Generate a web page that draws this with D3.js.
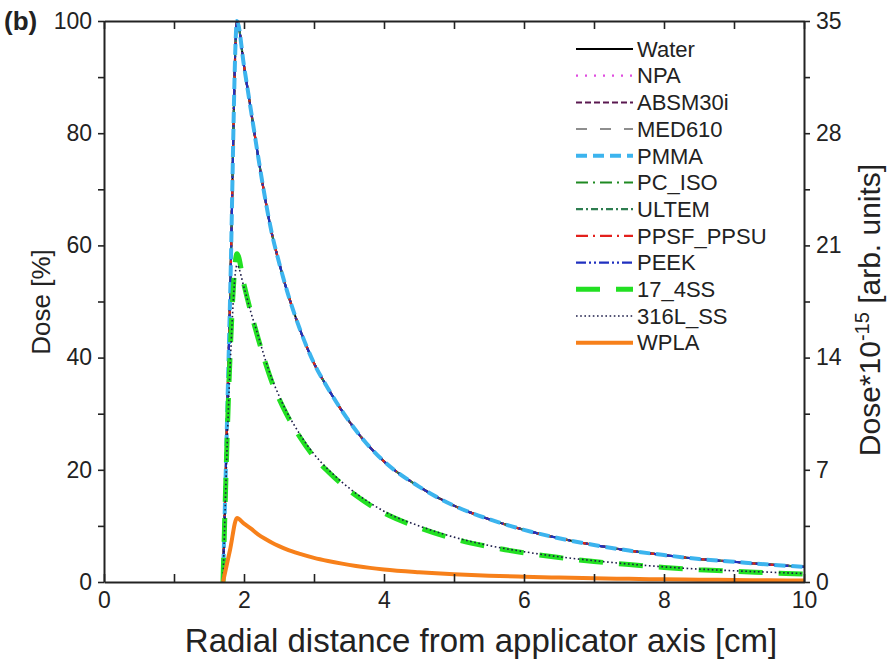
<!DOCTYPE html>
<html>
<head>
<meta charset="utf-8">
<script src="https://cdn.jsdelivr.net/npm/d3@7/dist/d3.min.js"></script>
<style>
  html, body { margin: 0; padding: 0; background: #fff; }
  svg text { font-family: "Liberation Sans", Arial, sans-serif; fill: #222; }
</style>
</head>
<body>
<svg id="chart" width="890" height="664"></svg>
<script>
// ---- data ----
const radius = [1.7, 1.8, 1.9, 2.0, 2.1, 2.2, 2.3, 2.4, 2.5, 2.6, 2.8, 3.0, 3.2, 3.4, 3.6, 3.8, 4.0, 4.5, 5.0, 5.5, 6.0, 6.5, 7.0, 7.5, 8.0, 8.5, 9.0, 9.5, 10.0];
// Water and all polymer-type materials overlap in the figure
const doseWater = [0, 50, 100, 92, 84, 76, 68.5, 62, 57, 52.5, 45, 39, 34.5, 30.5, 27, 24, 21.5, 17, 13.6, 11.2, 9.3, 7.8, 6.6, 5.6, 4.8, 4.1, 3.6, 3.1, 2.7];
const dose17_4SS = [0, 40, 58.5, 53, 48, 43.5, 39.3, 35.6, 32.7, 30.1, 25.8, 22.3, 19.7, 17.4, 15.4, 13.7, 12.3, 9.7, 7.7, 6.3, 5.2, 4.35, 3.65, 3.1, 2.6, 2.2, 1.9, 1.65, 1.4];
const dose316L = [0, 38, 56.5, 52.5, 48, 44, 39.8, 36.2, 33.2, 30.6, 26.3, 22.8, 20.1, 17.8, 15.8, 14.1, 12.6, 10, 8, 6.5, 5.4, 4.5, 3.8, 3.2, 2.7, 2.3, 2.0, 1.75, 1.5];
const doseWPLA = [0, 5.7, 11.4, 10.4, 9.5, 8.5, 7.7, 7.0, 6.4, 5.85, 5.0, 4.3, 3.75, 3.28, 2.87, 2.52, 2.24, 1.75, 1.38, 1.12, 0.93, 0.78, 0.66, 0.56, 0.48, 0.41, 0.36, 0.31, 0.27];

const materials = ["Water", "NPA", "ABSM30i", "MED610", "PMMA", "PC_ISO", "ULTEM", "PPSF_PPSU", "PEEK", "17_4SS", "316L_SS", "WPLA"];
const materialDose = [doseWater, doseWater, doseWater, doseWater, doseWater, doseWater, doseWater, doseWater, doseWater, dose17_4SS, dose316L, doseWPLA];

const xTicks = [0, 1, 2, 3, 4, 5, 6, 7, 8, 9, 10];
const yTicks = [0, 10, 20, 30, 40, 50, 60, 70, 80, 90, 100];
const y2Ticks = [0, 3.5, 7, 10.5, 14, 17.5, 21, 24.5, 28, 31.5, 35];

// ---- styles ----
const styles = {
  "Water":     {color: "#000000", width: 2,   dash: null},
  "NPA":       {color: "#e04ce0", width: 2.2, dash: "2,7"},
  "ABSM30i":   {color: "#5a1850", width: 2,   dash: "6,3"},
  "MED610":    {color: "#8e8e8e", width: 2,   dash: "11,13"},
  "PMMA":      {color: "#3cb4ee", width: 4,   dash: "11,6"},
  "PC_ISO":    {color: "#1f8a22", width: 2.2, dash: "12,5,2,5"},
  "ULTEM":     {color: "#2e7d50", width: 2.2, dash: "7,3,2,3"},
  "PPSF_PPSU": {color: "#e3201c", width: 2.2, dash: "12,5,2,5"},
  "PEEK":      {color: "#2030c0", width: 2.2, dash: "10,3,2,3,2,3"},
  "17_4SS":    {color: "#22e022", width: 5,   dash: "24,16"},
  "316L_SS":   {color: "#1c1c48", width: 1.6, dash: "1.6,2.6"},
  "WPLA":      {color: "#f7801a", width: 4,   dash: null}
};
const drawOrder = ["Water", "NPA", "ABSM30i", "MED610", "PC_ISO", "ULTEM", "PPSF_PPSU", "PEEK", "PMMA", "17_4SS", "316L_SS", "WPLA"];

// ---- layout ----
const L = 104, R = 804, T = 21, B = 582;
const svg = d3.select("#chart");
const x = d3.scaleLinear().domain([0, 10]).range([L, R]);
const y = d3.scaleLinear().domain([0, 100]).range([B, T]);
const y2 = d3.scaleLinear().domain([0, 35]).range([B, T]);

svg.append("defs").append("clipPath").attr("id", "clip")
  .append("rect").attr("x", L).attr("y", T - 2).attr("width", R - L).attr("height", B - T + 2);

const line = d3.line().curve(d3.curveMonotoneX).x(d => x(d[0])).y(d => y(d[1]));
const plot = svg.append("g").attr("clip-path", "url(#clip)");
drawOrder.forEach(name => {
  const i = materials.indexOf(name);
  const st = styles[name];
  const pts = radius.map((r, k) => [r, materialDose[i][k]]);
  plot.append("path").datum(pts)
    .attr("d", line)
    .attr("fill", "none")
    .attr("stroke", st.color)
    .attr("stroke-width", st.width)
    .attr("stroke-dasharray", st.dash)
    .attr("stroke-linejoin", "miter");
});

// ---- axes ----
const tickFont = "23px";
const gx = svg.append("g").attr("transform", `translate(0,${B})`)
  .call(d3.axisBottom(x).tickValues(xTicks).tickSizeInner(-8).tickSizeOuter(0).tickPadding(10)
    .tickFormat(d => d % 2 === 0 ? d : ""));
const gxt = svg.append("g").attr("transform", `translate(0,${T})`)
  .call(d3.axisTop(x).tickValues(xTicks).tickSizeInner(-8).tickSizeOuter(0).tickFormat(""));
const gy = svg.append("g").attr("transform", `translate(${L},0)`)
  .call(d3.axisLeft(y).tickValues(yTicks).tickSizeInner(6).tickSizeOuter(0).tickPadding(6)
    .tickFormat(d => d % 20 === 0 ? d : ""));
const gy2 = svg.append("g").attr("transform", `translate(${R},0)`)
  .call(d3.axisRight(y2).tickValues(y2Ticks).tickSizeInner(6).tickSizeOuter(0).tickPadding(6)
    .tickFormat(d => d % 7 === 0 ? d : ""));
[gx, gxt, gy, gy2].forEach(g => {
  g.selectAll("path.domain").attr("stroke", "#222").attr("stroke-width", 2);
  g.selectAll(".tick line").attr("stroke", "#222").attr("stroke-width", 1.6);
  g.selectAll(".tick text").style("font-size", tickFont).style("font-family", "'Liberation Sans', Arial, sans-serif").attr("fill", "#222");
});

// ---- titles ----
svg.append("text").attr("x", 481).attr("y", 652).attr("text-anchor", "middle")
  .style("font-size", "33px").text("Radial distance from applicator axis [cm]");
svg.append("text").attr("transform", "translate(50,302) rotate(-90)").attr("text-anchor", "middle")
  .style("font-size", "26px").text("Dose [%]");
const rt = svg.append("text").attr("transform", "translate(880,310) rotate(-90)").attr("text-anchor", "middle")
  .style("font-size", "30px");
rt.append("tspan").text("Dose*10");
rt.append("tspan").attr("dy", -11).style("font-size", "20px").text("-15");
rt.append("tspan").attr("dy", 11).text(" [arb. units]");
svg.append("text").attr("x", 4).attr("y", 30).style("font-size", "26px").style("font-weight", "bold").text("(b)");

// ---- legend ----
const leg = svg.append("g");
materials.forEach((name, i) => {
  const st = styles[name];
  const yy = 49 + i * 26.7;
  leg.append("line").attr("x1", 576).attr("x2", 633).attr("y1", yy).attr("y2", yy)
    .attr("stroke", st.color).attr("stroke-width", st.width).attr("stroke-dasharray", st.dash);
  leg.append("text").attr("x", 637).attr("y", yy).attr("dy", "0.35em")
    .style("font-size", "22px").text(name);
});
</script>
</body>
</html>
